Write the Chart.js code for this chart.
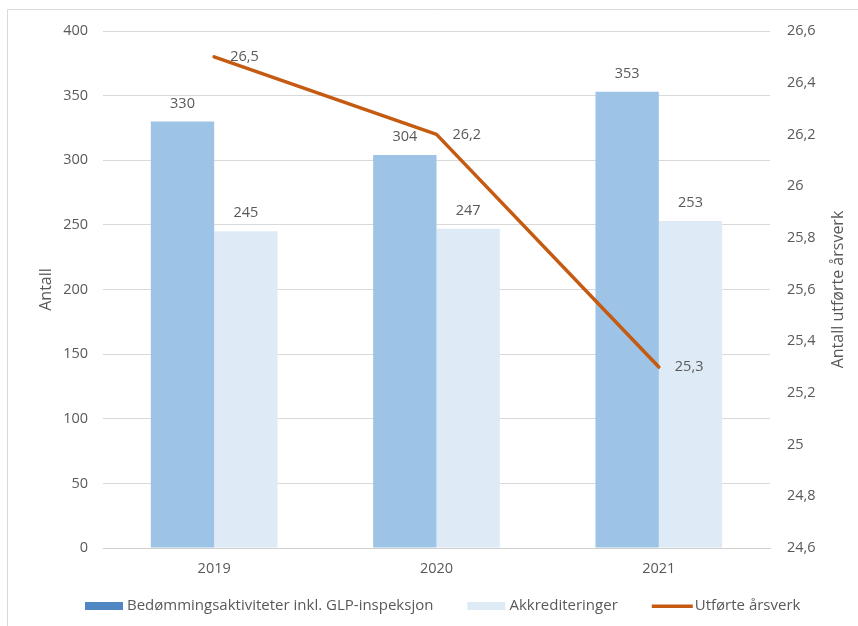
<!DOCTYPE html>
<html>
<head>
<meta charset="utf-8">
<script src="https://cdn.jsdelivr.net/npm/chart.js@4.4.1/dist/chart.umd.min.js"></script>
<style>
  html, body { margin: 0; padding: 0; background: #ffffff; }
  #wrap { position: relative; width: 858px; height: 626px; }
</style>
</head>
<body>
<div id="wrap"><canvas id="c" width="858" height="626"></canvas></div>
<script>
// ---- data ----
const categories = ['2019', '2020', '2021'];
const seriesNames = ['Bedømmingsaktiviteter inkl. GLP-inspeksjon', 'Akkrediteringer', 'Utførte årsverk'];
const bedommingValues = [330, 304, 353];
const akkrediteringValues = [245, 247, 253];
const arsverkValues = [26.5, 26.2, 25.3];
const leftTicks = [0, 50, 100, 150, 200, 250, 300, 350, 400];
const rightTicks = [24.6, 24.8, 25.0, 25.2, 25.4, 25.6, 25.8, 26.0, 26.2, 26.4, 26.6];
const leftTitle = 'Antall';
const rightTitle = 'Antall utførte årsverk';

// ---- styles ----
const FONT = '"Open Sans", "Noto Sans", sans-serif';
const TEXT = '#595959';
const GRID = '#d9d9d9';
const C_BAR1 = '#9dc3e6';
const C_BAR1_LEGEND = '#4f87c2';
const C_BAR2 = '#deebf7';
const C_LINE = '#c55a11';

const fmt = v => {
  const r = Math.round(v * 10) / 10;
  return String(r).replace('.', ',');
};

const framePlugin = {
  id: 'frame',
  beforeDraw(chart) {
    const ctx = chart.ctx;
    ctx.save();
    ctx.fillStyle = '#ffffff';
    ctx.fillRect(0, 0, chart.width, chart.height);
    ctx.strokeStyle = GRID;
    ctx.lineWidth = 1;
    ctx.beginPath();
    ctx.moveTo(7.5, chart.height);
    ctx.lineTo(7.5, 9.5);
    ctx.lineTo(chart.width, 9.5);
    ctx.stroke();
    ctx.restore();
  }
};

const labelsPlugin = {
  id: 'valueLabels',
  afterDatasetsDraw(chart) {
    const ctx = chart.ctx;
    ctx.save();
    ctx.font = '14.5px ' + FONT;
    ctx.fillStyle = TEXT;
    chart.data.datasets.forEach((ds, i) => {
      const meta = chart.getDatasetMeta(i);
      meta.data.forEach((el, j) => {
        const v = ds.data[j];
        if (ds.type === 'line') {
          ctx.textAlign = 'left';
          ctx.textBaseline = 'middle';
          ctx.fillText(fmt(v), el.x + 16, el.y);
        } else {
          ctx.textAlign = 'center';
          ctx.textBaseline = 'middle';
          ctx.fillText(String(v), el.x, el.y - 18);
        }
      });
    });
    ctx.restore();
  }
};

const titlesLegendPlugin = {
  id: 'titlesLegend',
  afterDraw(chart) {
    const ctx = chart.ctx;
    const area = chart.chartArea;
    const midY = (area.top + area.bottom) / 2;
    ctx.save();
    ctx.fillStyle = TEXT;
    ctx.font = '16px ' + FONT;
    ctx.textAlign = 'center';
    ctx.textBaseline = 'middle';
    ctx.save();
    ctx.translate(46, midY);
    ctx.rotate(-Math.PI / 2);
    ctx.fillText(leftTitle, 0, 0);
    ctx.restore();
    ctx.save();
    ctx.translate(838, midY);
    ctx.rotate(-Math.PI / 2);
    ctx.fillText(rightTitle, 0, 0);
    ctx.restore();

    // legend
    ctx.font = '15px ' + FONT;
    ctx.textAlign = 'left';
    ctx.textBaseline = 'middle';
    const ly = 606;
    const colors = [C_BAR1_LEGEND, C_BAR2, C_LINE];
    let x = 85;
    seriesNames.forEach((name, i) => {
      ctx.fillStyle = colors[i];
      if (i === 2) {
        ctx.fillRect(x, ly - 1.5, 41, 3.5);
      } else {
        ctx.fillRect(x, ly - 4, 38, 8);
      }
      const tx = x + (i === 2 ? 43 : 42);
      ctx.fillStyle = TEXT;
      ctx.fillText(name, tx, ly);
      x = tx + ctx.measureText(name).width + 34;
    });
    ctx.restore();
  }
};

new Chart(document.getElementById('c'), {
  type: 'bar',
  data: {
    labels: categories,
    datasets: [
      {
        type: 'bar', label: seriesNames[0], data: bedommingValues,
        backgroundColor: C_BAR1, yAxisID: 'y', order: 2,
        categoryPercentage: 0.57, barPercentage: 1.0
      },
      {
        type: 'bar', label: seriesNames[1], data: akkrediteringValues,
        backgroundColor: C_BAR2, yAxisID: 'y', order: 2,
        categoryPercentage: 0.57, barPercentage: 1.0
      },
      {
        type: 'line', label: seriesNames[2], data: arsverkValues,
        borderColor: C_LINE, backgroundColor: C_LINE, borderWidth: 3.5,
        pointRadius: 0, tension: 0, yAxisID: 'y1', order: 0,
        borderCapStyle: 'round', borderJoinStyle: 'round'
      }
    ]
  },
  options: {
    responsive: false,
    animation: false,
    devicePixelRatio: 1,
    layout: { padding: { top: 31, left: 0, right: 0, bottom: 0 } },
    plugins: {
      legend: { display: false },
      tooltip: { enabled: false },
      title: { display: false }
    },
    scales: {
      x: {
        offset: true,
        grid: { display: false, drawTicks: false },
        border: { display: true, color: '#d0d0d0', width: 1 },
        ticks: { color: TEXT, font: { family: FONT, size: 14.5 }, padding: 12 },
        afterFit(scale) { scale.height = 78; }
      },
      y: {
        position: 'left',
        min: 0, max: 400,
        afterBuildTicks(scale) { scale.ticks = leftTicks.map(v => ({ value: v })); },
        grid: { color: GRID, lineWidth: 1, drawTicks: false },
        border: { display: false },
        ticks: { color: TEXT, font: { family: FONT, size: 14.5 }, padding: 15 },
        afterFit(scale) { scale.width = 103; }
      },
      y1: {
        position: 'right',
        min: 24.6, max: 26.6,
        afterBuildTicks(scale) { scale.ticks = rightTicks.map(v => ({ value: v })); },
        grid: { drawOnChartArea: false, drawTicks: false },
        border: { display: false },
        ticks: { color: TEXT, font: { family: FONT, size: 14.5 }, padding: 17, callback: v => fmt(v) },
        afterFit(scale) { scale.width = 88; }
      }
    }
  },
  plugins: [framePlugin, labelsPlugin, titlesLegendPlugin]
});
</script>
</body>
</html>
